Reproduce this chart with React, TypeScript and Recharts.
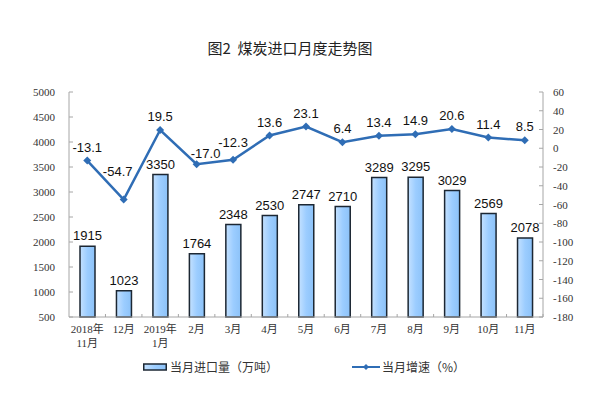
import React from "react";
import { ComposedChart, Bar, Line, XAxis, YAxis, LabelList } from "recharts";

const months = [
  "2018年\n11月", "12月", "2019年\n1月", "2月", "3月", "4月", "5月",
  "6月", "7月", "8月", "9月", "10月", "11月",
];
const imports = [1915, 1023, 3350, 1764, 2348, 2530, 2747, 2710, 3289, 3295, 3029, 2569, 2078];
const growth = [-13.1, -54.7, 19.5, -17.0, -12.3, 13.6, 23.1, 6.4, 13.4, 14.9, 20.6, 11.4, 8.5];
const leftTicks = [500, 1000, 1500, 2000, 2500, 3000, 3500, 4000, 4500, 5000];
const rightTicks = [-180, -160, -140, -120, -100, -80, -60, -40, -20, 0, 20, 40, 60];

const data = months.map((m, i) => ({ month: m, imports: imports[i], growth: growth[i] }));

const W = 611;
const H = 394;
const margin = { top: 92, right: 8, bottom: 37, left: 10 };
const leftW = 59;
const rightW = 60;
const plotW = W - margin.left - margin.right - leftW - rightW;
const band = plotW / months.length;

const serif = "'Liberation Serif', 'Times New Roman', 'Noto Sans CJK SC', serif";
const sans = "'Liberation Sans', Arial, sans-serif";
const cjk = "'Noto Sans CJK SC', sans-serif";
const axisGray = "#a6a6a6";
const lineBlue = "#2f6db5";

// a few growth labels sit off-centre in the original, like hand-moved excel labels
const labelNudge: Record<number, [number, number]> = { 1: [-6, -15], 3: [9, 3], 4: [0, -4] };

const LeftTick = (props: any) => {
  const { x, y, payload } = props;
  return (
    <g>
      <line x1={x + 14} x2={x + 18} y1={y} y2={y} stroke={axisGray} />
      <text x={x} y={y} dy={4} textAnchor="end" fontSize={11} fill="#333" fontFamily={serif}>
        {payload.value}
      </text>
    </g>
  );
};

const RightTick = (props: any) => {
  const { x, y, payload } = props;
  return (
    <g>
      <line x1={x - 10} x2={x - 14} y1={y} y2={y} stroke={axisGray} />
      <text x={x} y={y} dy={4} textAnchor="start" fontSize={11} fill="#333" fontFamily={serif}>
        {payload.value}
      </text>
    </g>
  );
};

const XTick = (props: any) => {
  const { x, y, payload } = props;
  const lines = String(payload.value).split("\n");
  return (
    <g>
      <line x1={x + band / 2} x2={x + band / 2} y1={y} y2={y - 3} stroke={axisGray} />
      {lines.map((t, i) => (
        <text key={i} x={x} y={y + 16 + i * 14} textAnchor="middle" fontSize={11} fill="#333" fontFamily={serif}>
          {t}
        </text>
      ))}
    </g>
  );
};

const Diamond = (props: any) => {
  const { cx, cy } = props;
  if (cx == null || cy == null) return null;
  const s = 4;
  return <path d={`M${cx},${cy - s}L${cx + s},${cy}L${cx},${cy + s}L${cx - s},${cy}Z`} fill={lineBlue} />;
};

const GrowthLabel = (props: any) => {
  const { x, y, value, index } = props;
  if (x == null || y == null) return null;
  const [dx, dy] = labelNudge[index] || [0, 0];
  return (
    <text x={x + dx} y={y - 9 + dy} textAnchor="middle" fontSize={13} fill="#111" fontFamily={sans}>
      {Number(value).toFixed(1)}
    </text>
  );
};

export default function App() {
  return (
    <div style={{ position: "absolute", left: 0, top: 0, width: W, height: H, background: "#fff" }}>
      <div
        style={{
          position: "absolute",
          top: 37,
          left: 190,
          width: 200,
          textAlign: "center",
          fontFamily: cjk,
          fontSize: 15,
          color: "#222",
        }}
      >
        图2&nbsp;&nbsp;煤炭进口月度走势图
      </div>
      <ComposedChart width={W} height={H} data={data} margin={margin}>
        <defs>
          <linearGradient id="barFill" x1="0" y1="0" x2="1" y2="0">
            <stop offset="0%" stopColor="#c4e1ff" />
            <stop offset="50%" stopColor="#9ccdff" />
            <stop offset="100%" stopColor="#8cc2f8" />
          </linearGradient>
        </defs>
        <XAxis
          dataKey="month"
          interval={0}
          height={40}
          tickLine={false}
          tickSize={0}
          tickMargin={0}
          stroke={axisGray}
          tick={<XTick />}
        />
        <YAxis
          yAxisId="left"
          orientation="left"
          width={leftW}
          domain={[500, 5000]}
          ticks={leftTicks}
          interval={0}
          tickLine={false}
          tickSize={0}
          tickMargin={14}
          stroke={axisGray}
          tick={<LeftTick />}
        />
        <YAxis
          yAxisId="right"
          orientation="right"
          width={rightW}
          domain={[-180, 60]}
          ticks={rightTicks}
          interval={0}
          tickLine={false}
          tickSize={0}
          tickMargin={10}
          stroke={axisGray}
          tick={<RightTick />}
        />
        <Bar
          yAxisId="left"
          dataKey="imports"
          barSize={15}
          fill="url(#barFill)"
          stroke="#1c2733"
          strokeWidth={1.5}
          isAnimationActive={false}
        >
          <LabelList dataKey="imports" position="top" offset={6} fontSize={13} fill="#111" fontFamily={sans} />
        </Bar>
        <Line
          yAxisId="right"
          dataKey="growth"
          stroke={lineBlue}
          strokeWidth={2.5}
          dot={<Diamond />}
          activeDot={false}
          isAnimationActive={false}
        >
          <LabelList dataKey="growth" content={<GrowthLabel />} />
        </Line>
      </ComposedChart>
      <div
        style={{
          position: "absolute",
          top: 358,
          left: 143,
          display: "flex",
          alignItems: "center",
          fontFamily: cjk,
          fontSize: 12,
          color: "#333",
        }}
      >
        <svg width={24} height={8} style={{ marginRight: 3 }}>
          <rect x={0.75} y={1} width={22.5} height={6} fill="url(#barFill)" stroke="#1c2733" strokeWidth={1.5} />
        </svg>
        <span>当月进口量（万吨）</span>
        <svg width={28} height={10} style={{ marginLeft: 74, marginRight: 2 }}>
          <line x1={0} x2={28} y1={5} y2={5} stroke={lineBlue} strokeWidth={2} />
          <path d="M14,2L17,5L14,8L11,5Z" fill={lineBlue} />
        </svg>
        <span>当月增速（%）</span>
      </div>
    </div>
  );
}
